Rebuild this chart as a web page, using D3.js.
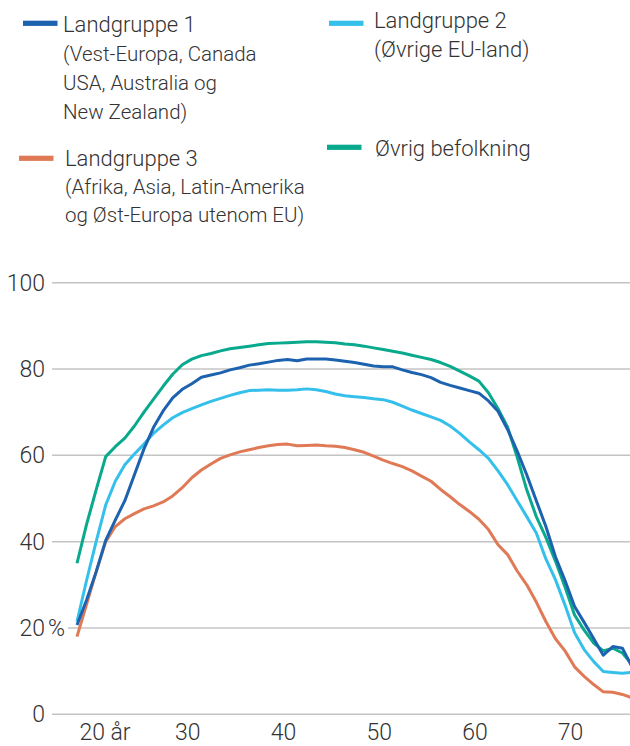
<!DOCTYPE html>
<html lang="no">
<head>
<meta charset="utf-8">
<title>Sysselsetting etter alder og landgruppe</title>
<script src="https://cdn.jsdelivr.net/npm/d3@7"></script>
<style>
  body { margin: 0; background: #fff; }
  svg { display: block; font-family: Roboto, Lato, sans-serif; font-weight: 300; }
  .grid { stroke: #c4c4c4; stroke-width: 1.5px; }
  .tick-label { fill: #333; font-size: 23px; }
  .legend-title { fill: #333; font-size: 22px; }
  .legend-sub { fill: #333; font-size: 20.5px; }
  .series { fill: none; stroke-width: 3px; stroke-linejoin: round; }
</style>
</head>
<body>
<script>

// ages on the x axis (one point per year)
var ages = [18, 19, 20, 21, 22, 23, 24, 25, 26, 27, 28, 29, 30, 31, 32, 33, 34, 35, 36, 37, 38, 39,
            40, 41, 42, 43, 44, 45, 46, 47, 48, 49, 50, 51, 52, 53, 54, 55, 56, 57, 58, 59,
            60, 61, 62, 63, 64, 65, 66, 67, 68, 69, 70, 71, 72, 73, 74, 75, 76];

// share employed, per cent
var landgruppe1 = [20.7, 26.5, 33, 40.3, 45, 49.5, 55.5, 61.5, 66.5, 70.3, 73.3, 75.3, 76.6, 78.1, 78.6, 79.1, 79.8, 80.3, 80.9, 81.2, 81.6, 82.0,
                   82.2, 81.9, 82.3, 82.3, 82.3, 82.1, 81.8, 81.5, 81.1, 80.7, 80.5, 80.5, 79.8, 79.2, 78.7, 78.0, 76.9, 76.2, 75.6, 75.0,
                   74.4, 72.6, 70.2, 66, 61, 55.5, 49.5, 43.5, 36.5, 31, 25, 21.3, 17.5, 13.7, 15.7, 15.3, 11];

var landgruppe2 = [21.5, 31, 40, 48.5, 54, 57.8, 60.3, 62.6, 65.1, 67, 68.7, 69.9, 70.8, 71.7, 72.5, 73.2, 73.9, 74.5, 75.0, 75.1, 75.2, 75.1,
                   75.1, 75.2, 75.4, 75.2, 74.8, 74.2, 73.8, 73.6, 73.4, 73.1, 72.9, 72.3, 71.4, 70.5, 69.7, 68.9, 68.1, 66.8, 65.1, 63.1,
                   61.3, 59.3, 56.4, 53.2, 49.5, 45.8, 42, 36, 31.2, 25.3, 18.9, 15, 12.2, 9.9, 9.7, 9.5, 9.7];

var landgruppe3 = [18, 25.5, 33, 40, 43.5, 45.3, 46.5, 47.6, 48.3, 49.2, 50.6, 52.5, 54.8, 56.6, 58, 59.3, 60.1, 60.8, 61.3, 61.8, 62.2, 62.5,
                   62.6, 62.2, 62.3, 62.4, 62.2, 62.1, 61.8, 61.3, 60.7, 59.8, 58.9, 58.1, 57.4, 56.4, 55.2, 54, 52.1, 50.4, 48.6, 47,
                   45.2, 42.8, 39.3, 37, 33.2, 30, 26, 21.5, 17.5, 14.7, 11, 8.8, 6.9, 5.2, 5.1, 4.6, 3.8];

var ovrigBefolkning = [35, 44, 52, 59.7, 62, 64, 66.8, 70, 73, 76, 78.8, 81, 82.3, 83.1, 83.6, 84.2, 84.7, 85.0, 85.3, 85.6, 85.9, 86.0,
                       86.1, 86.2, 86.3, 86.3, 86.2, 86.1, 85.8, 85.6, 85.3, 84.9, 84.5, 84.1, 83.7, 83.2, 82.7, 82.2, 81.5, 80.6, 79.5, 78.4,
                       77.2, 74.5, 70.8, 66.5, 59.6, 52, 45.8, 41, 35.5, 29.5, 23, 19.5, 16.5, 14.7, 15.3, 14.2, 11.5];

// axis ticks
var xTicks = [20, 30, 40, 50, 60, 70];
var xUnit = "år";
var yTicks = [0, 20, 40, 60, 80, 100];
var yUnit = "%";

var svg = d3.select("body")
            .append("svg")
            .attr("width", 630)
            .attr("height", 746);

var x = d3.scaleLinear()
          .domain([18, 76])
          .range([77, 632]);

var y = d3.scaleLinear()
          .domain([0, 100])
          .range([714.3, 282.7]);

// y labels and gridlines
var yg = svg.append("g");

yTicks.forEach(function(t) {
    var lab = yg.append("text")
                .attr("class", "tick-label")
                .attr("x", 45)
                .attr("y", y(t))
                .attr("dy", "0.35em")
                .attr("text-anchor", "end")
                .text(t);
    var start = 52;
    if (t == 20) {
        var u = yg.append("text")
                  .attr("class", "tick-label")
                  .attr("x", 48)
                  .attr("y", y(t))
                  .attr("dy", "0.35em")
                  .text(yUnit);
        start = 48 + u.node().getComputedTextLength() + 3;
    }
    yg.insert("line", ":first-child")
      .attr("class", "grid")
      .attr("x1", start)
      .attr("x2", 630)
      .attr("y1", y(t))
      .attr("y2", y(t));
});

// x labels
xTicks.forEach(function(t, i) {
    var lab = svg.append("text")
                 .attr("class", "tick-label")
                 .attr("y", 740)
                 .text(t);
    var w = lab.node().getComputedTextLength();
    if (i == 0) {
        lab.attr("x", x(t) - 4 - w / 2).text(t + " " + xUnit);
    } else {
        lab.attr("x", x(t) - 4).attr("text-anchor", "middle");
    }
});

// lines
var series = [
    {name: "Landgruppe 3", values: landgruppe3, color: "#e07a56"},
    {name: "Landgruppe 2", values: landgruppe2, color: "#35c0ec"},
    {name: "Øvrig befolkning", values: ovrigBefolkning, color: "#08a98c"},
    {name: "Landgruppe 1", values: landgruppe1, color: "#1d62ae"}
];

var line = d3.line()
             .x(function(d, i) { return x(ages[i]); })
             .y(function(d) { return y(d); });

svg.append("g")
   .selectAll("path")
   .data(series)
   .enter()
   .append("path")
   .attr("class", "series")
   .attr("stroke", function(d) { return d.color; })
   .attr("d", function(d) { return line(d.values); });

// legend
var legend = [
    {title: "Landgruppe 1", sub: ["(Vest-Europa, Canada", "USA, Australia og", "New Zealand)"], color: "#1d62ae", x: 23, y: 23.3, tx: 63, ty: 32.3, big: false, gap: 29},
    {title: "Landgruppe 2", sub: ["(Øvrige EU-land)"], color: "#35c0ec", x: 329, y: 23.3, tx: 374, ty: 28.3, big: true, gap: 28.4},
    {title: "Landgruppe 3", sub: ["(Afrika, Asia, Latin-Amerika", "og Øst-Europa utenom EU)"], color: "#e07a56", x: 19, y: 158.3, tx: 65, ty: 165.7, big: false, gap: 28},
    {title: "Øvrig befolkning", sub: [], color: "#08a98c", x: 327, y: 147.3, tx: 375, ty: 156, big: false, gap: 28}
];

legend.forEach(function(l) {
    svg.append("rect")
       .attr("x", l.x)
       .attr("y", l.y - 2.6)
       .attr("width", 34.5)
       .attr("height", 5.2)
       .attr("fill", l.color);
    svg.append("text")
       .attr("class", "legend-title")
       .attr("x", l.tx)
       .attr("y", l.ty)
       .text(l.title);
    l.sub.forEach(function(s, i) {
        svg.append("text")
           .attr("class", l.big ? "legend-title" : "legend-sub")
           .attr("x", l.tx)
           .attr("y", l.ty + l.gap * (i + 1))
           .text(s);
    });
});

</script>
</body>
</html>
